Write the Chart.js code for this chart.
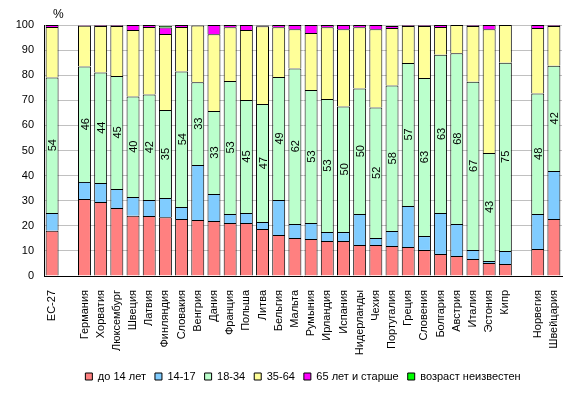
<!DOCTYPE html>
<html>
<head>
<meta charset="utf-8">
<script src="https://cdn.jsdelivr.net/npm/chart.js@4.4.0/dist/chart.umd.min.js"></script>
<style>
  html, body { margin: 0; padding: 0; background: #fff; }
  #wrap { width: 577px; height: 394px; }
</style>
</head>
<body>
<div id="wrap"><canvas id="chart" width="577" height="394"></canvas></div>
<script>
// Страны (пустые строки - промежутки между группами)
const countries = ['ЕС-27', '', 'Германия', 'Хорватия', 'Люксембург', 'Швеция', 'Латвия', 'Финляндия', 'Словакия',
    'Венгрия', 'Дания', 'Франция', 'Польша', 'Литва', 'Бельгия', 'Мальта', 'Румыния', 'Ирландия', 'Испания',
    'Нидерланды', 'Чехия', 'Португалия', 'Греция', 'Словения', 'Болгария', 'Австрия', 'Италия', 'Эстония', 'Кипр',
    '', 'Норвегия', 'Швейцария'];

// Доли возрастных групп, %
const under14 = [18.0, null, 30.7, 29.5, 27.1, 24.0, 23.9, 23.4, 22.7, 22.3, 21.9, 21.1, 21.1, 18.7, 16.3, 15.1,
    14.7, 13.9, 13.9, 12.4, 12.4, 12.0, 11.6, 10.4, 8.8, 8.0, 6.8, 5.2, 4.8, null, 10.8, 22.7];
const age14to17 = [7.1, null, 6.8, 7.6, 7.6, 7.5, 6.4, 7.7, 4.8, 21.9, 10.8, 3.6, 4.0, 2.8, 14.0, 5.6,
    6.4, 3.6, 3.6, 12.3, 2.7, 5.9, 16.3, 5.5, 16.3, 12.7, 3.6, 0.8, 5.2, null, 13.9, 19.1];
const age18to34 = [54, null, 46, 44, 45, 40, 42, 35, 54, 33, 33, 53, 45, 47, 49, 62,
    53, 53, 50, 50, 52, 58, 57, 63, 63, 68, 67, 43, 75, null, 48, 42];
const age35to64 = [20.1, null, 16.2, 18.5, 19.9, 26.5, 26.9, 30.3, 17.7, 22.6, 30.6, 21.4, 27.9, 31.0, 19.8, 15.6,
    22.7, 28.6, 30.8, 24.4, 31.2, 22.9, 14.7, 20.7, 11.1, 11.3, 22.2, 49.3, 15.0, null, 26.1, 15.8];
const age65plus = [0.8, null, 0.2, 0.3, 0.3, 2.0, 0.8, 2.6, 0.8, 0.1, 3.7, 0.9, 2.0, 0.3, 0.9, 1.7,
    3.2, 0.9, 1.7, 0.9, 1.7, 0.8, 0.3, 0.3, 0.8, 0, 0.3, 1.7, 0, null, 1.2, 0.3];
const ageUnknown = [0, null, 0, 0, 0, 0, 0, 0.6, 0, 0, 0, 0, 0, 0, 0, 0,
    0, 0, 0, 0, 0, 0, 0, 0, 0, 0, 0, 0, 0, null, 0, 0];

const FONT = "'Liberation Sans', Arial, sans-serif";

// подписи значений 18-34 внутри столбцов + знак % над осью
const labelPlugin = {
    id: 'labelPlugin',
    afterDatasetsDraw(chart) {
        const ctx = chart.ctx;
        const meta = chart.getDatasetMeta(2);
        ctx.save();
        ctx.font = '11px ' + FONT;
        ctx.fillStyle = '#000';
        ctx.textAlign = 'center';
        ctx.textBaseline = 'middle';
        meta.data.forEach((bar, i) => {
            const v = age18to34[i];
            if (v === null) return;
            ctx.save();
            ctx.translate(bar.x + 1, (bar.y + bar.base) / 2);
            ctx.rotate(-Math.PI / 2);
            ctx.fillText(String(Math.round(v)), 0, 0);
            ctx.restore();
        });
        ctx.font = '12px ' + FONT;
        ctx.textAlign = 'left';
        ctx.fillText('%', 53, 15);
        ctx.restore();
    }
};

function ds(label, data, color) {
    return {
        label: label,
        data: data,
        backgroundColor: color,
        borderColor: '#000',
        borderWidth: (c) => (c.raw ? 1 : 0),
        borderSkipped: 'start',
        categoryPercentage: 1.0,
        barPercentage: 0.8
    };
}

new Chart(document.getElementById('chart').getContext('2d'), {
    type: 'bar',
    data: {
        labels: countries,
        datasets: [
            ds('до 14 лет', under14, '#FF8080'),
            ds('14-17', age14to17, '#80CCFF'),
            ds('18-34', age18to34, '#BBFFCC'),
            ds('35-64', age35to64, '#FFFF99'),
            ds('65 лет и старше', age65plus, '#FF00FF'),
            ds('возраст неизвестен', ageUnknown, '#00FF00')
        ]
    },
    options: {
        responsive: false,
        animation: false,
        layout: { padding: { left: 0, right: 15, top: 25, bottom: 2 } },
        plugins: {
            legend: {
                position: 'bottom',
                fullSize: false,
                labels: {
                    boxWidth: 7,
                    boxHeight: 7,
                    padding: 9,
                    color: '#000',
                    font: { size: 11, family: FONT },
                    generateLabels(chart) {
                        return chart.data.datasets.map((d, i) => ({
                            text: d.label,
                            fillStyle: d.backgroundColor,
                            strokeStyle: '#000',
                            lineWidth: 1,
                            hidden: false,
                            datasetIndex: i
                        }));
                    }
                }
            },
            tooltip: { enabled: false }
        },
        scales: {
            x: {
                stacked: true,
                grid: { display: false },
                border: { display: true, color: '#000', width: 1 },
                ticks: {
                    autoSkip: false,
                    minRotation: 90,
                    maxRotation: 90,
                    padding: 6,
                    color: '#000',
                    font: { size: 11, family: FONT }
                },
                afterFit(scale) { scale.height = 86; }
            },
            y: {
                stacked: true,
                min: 0,
                max: 100,
                grid: { color: '#C0C0C0', drawTicks: false },
                border: { display: true, color: '#000', width: 1 },
                ticks: {
                    stepSize: 10,
                    padding: 10,
                    color: '#000',
                    font: { size: 11, family: FONT }
                },
                afterFit(scale) { scale.width = 44; }
            }
        }
    },
    plugins: [labelPlugin]
});
</script>
</body>
</html>
